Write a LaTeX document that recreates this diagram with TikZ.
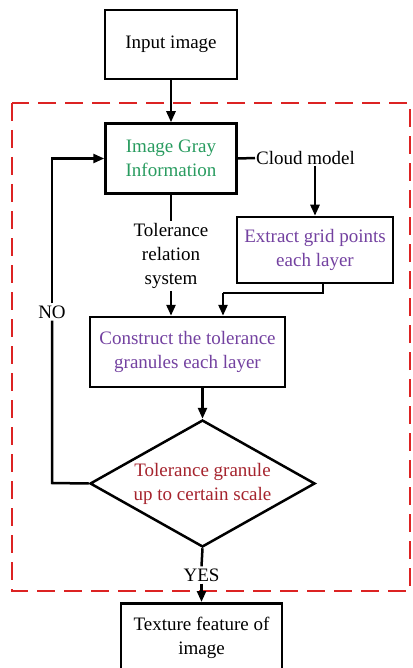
\documentclass[tikz,border=0pt]{standalone}
\usepackage{fontspec}
\setmainfont{Liberation Serif}
\usetikzlibrary{arrows.meta,shapes.geometric}
\definecolor{graygreen}{RGB}{40,155,95}
\definecolor{stepviolet}{RGB}{115,65,160}
\definecolor{darkred}{RGB}{165,35,45}
\definecolor{frame}{RGB}{220,35,35}
\begin{document}
\begin{tikzpicture}[x=1pt,y=-1pt,
  every node/.style={font=\fontsize{19}{24}\selectfont, align=center},
  box/.style={draw, line width=2.5pt, inner sep=0pt},
  conn/.style={line width=2.5pt},
  arr/.style={conn, -{Triangle[length=11pt,width=9pt]}}]
\useasboundingbox (0,0) rectangle (412,668);
\clip (0,0) rectangle (412,668);

% dashed frame round the iterative part
\draw[frame, line width=2.5pt, dash pattern=on 18pt off 9pt] (12,103) rectangle (410,591);

% boxes
\node[box, minimum width=132pt, minimum height=69pt] (in) at (171,44.5) {Input image};
\node[box, minimum width=131pt, minimum height=70pt, text=graygreen] (gray) at (171,158.5) {Image Gray\\Information};
\node[anchor=west, inner sep=1pt] (cloud) at (255,158) {Cloud model};
\node[box, minimum width=156pt, minimum height=66pt, text=stepviolet] (ext) at (315,250) {Extract grid points\\each layer};
\node[inner sep=2pt] (tol) at (171,256) {Tolerance\\relation\\system};
\node[box, minimum width=195pt, minimum height=70pt, text=stepviolet] (cons) at (187.5,352) {Construct the tolerance\\granules each layer};
\node[draw, shape=diamond, line width=2.5pt, inner sep=0pt, minimum width=225pt, minimum height=127pt] (dec) at (202.5,483.5) {};
\node[text=darkred] (dectext) at (dec.center) {Tolerance granule\\up to certain scale};
\node[inner sep=2pt] (yes) at (201.5,575) {YES};
\node[box, minimum width=161pt, minimum height=80pt, anchor=north] (tex) at (201.5,602) {};
\node (textxt) at (201.5,637.5) {Texture feature of\\image};
\node[fill=white, inner sep=2pt] (no) at (52,312) {NO};

% connectors
\coordinate (loopbot) at (52,483);
\coordinate (extbend) at (323,293);
\coordinate (consin) at (223,293);

\draw[arr] (in.south) -- (gray.north);
\draw[conn] (gray.east) -- (cloud.west);
\draw[arr] (cloud.south -| ext.north) -- (ext.north);
\draw[conn] (gray.south) -- (tol.north);
\draw[arr] (tol.south) -- (tol.south |- cons.north);
\draw[conn] (ext.south -| extbend) -- (extbend) -- (consin);
\draw[arr] (consin) -- (consin |- cons.north);
\draw[arr] (cons.south -| dec.north) -- (dec.north);
\draw[conn] (dec.west) -- (loopbot) -- (no.south);
\draw[arr] (no.north) |- (gray.west);
\draw[conn] (dec.south) -- (yes.north);
\draw[arr] (yes.south) -- (tex.north);
\end{tikzpicture}
\end{document}
